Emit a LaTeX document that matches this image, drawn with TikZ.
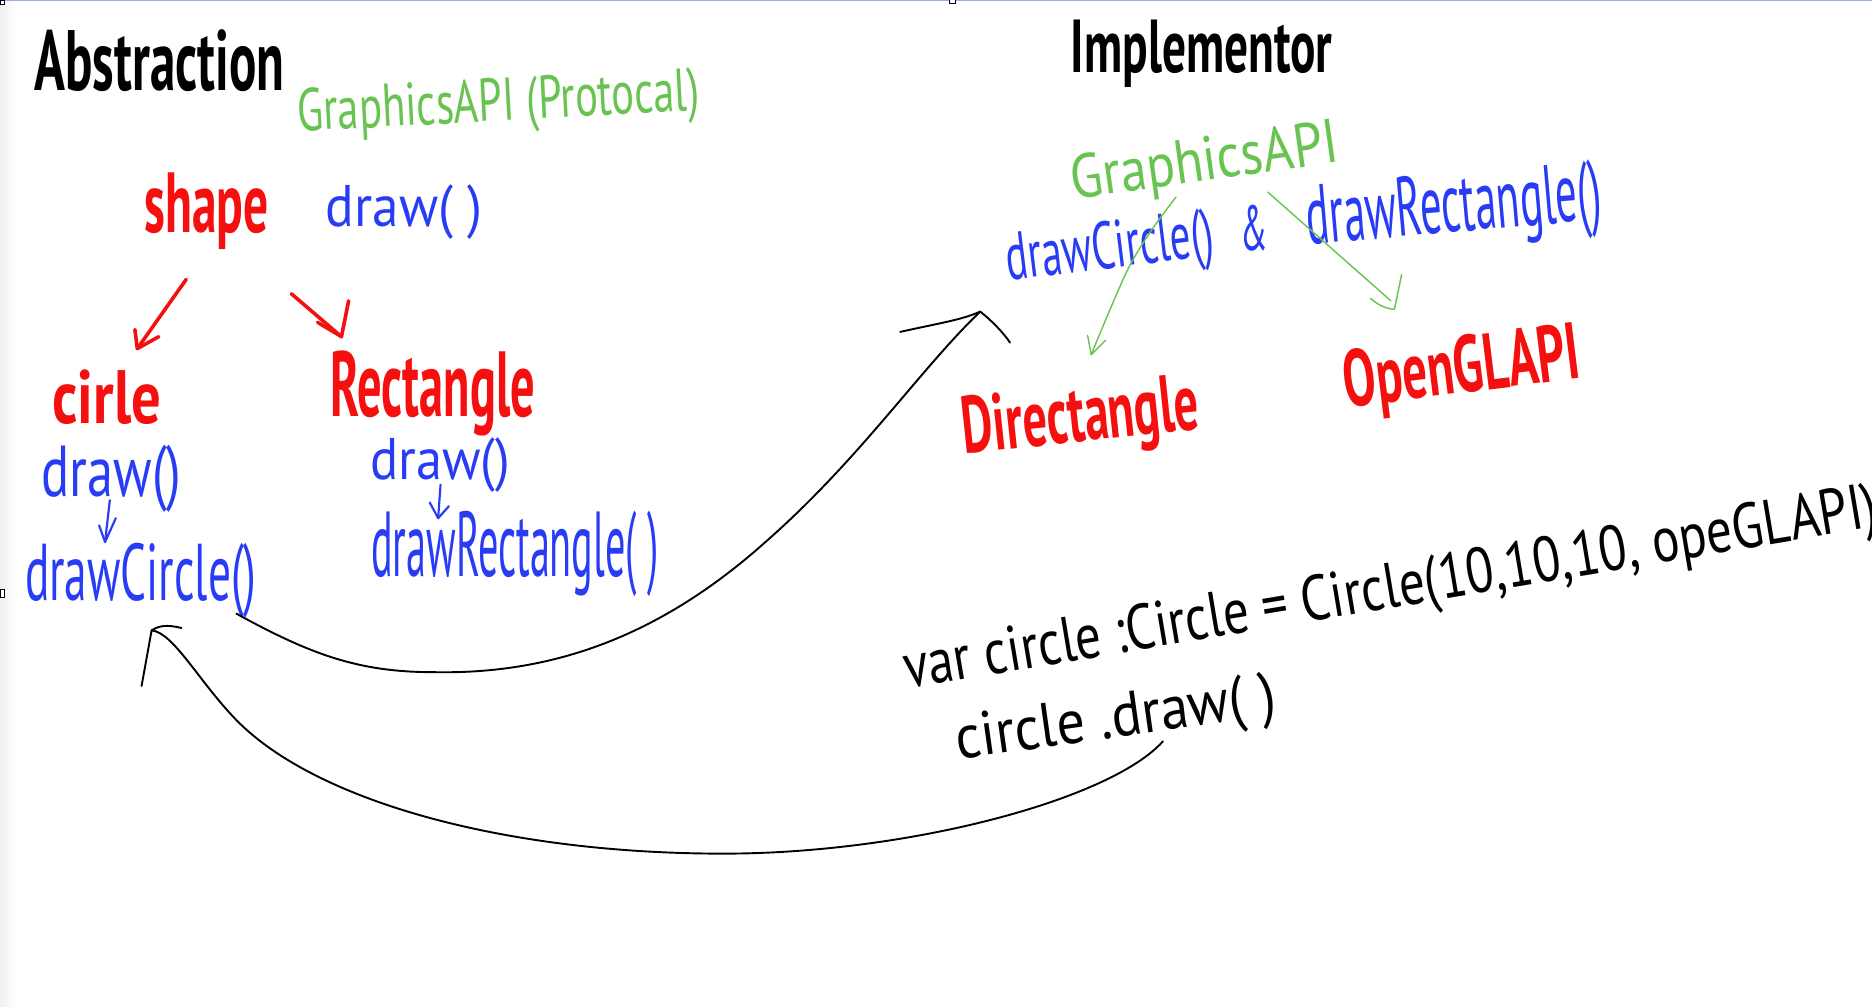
\documentclass[tikz,border=0pt]{standalone}
\usepackage{fontspec}
\setmainfont{PT Sans}
\usepackage{graphicx}
\definecolor{penred}{RGB}{245,15,15}
\definecolor{penblue}{RGB}{40,60,245}
\definecolor{pengreen}{RGB}{105,195,80}
\definecolor{edgeblue}{RGB}{150,170,245}
\newcommand{\hw}[3]{\resizebox{#1pt}{#2pt}{#3}}
\tikzset{
  txt/.style={inner sep=0pt, outer sep=0pt, anchor=base west},
  blk/.style={txt, text=black, font=\bfseries},
  redt/.style={txt, text=penred, font=\bfseries},
  bluet/.style={txt, text=penblue},
  greent/.style={txt, text=pengreen},
  codet/.style={txt, text=black},
  redpen/.style={draw=penred, line width=3pt, line cap=round, line join=round},
  bluepen/.style={draw=penblue, line width=1.8pt, line cap=round, line join=round},
  greenpen/.style={draw=pengreen, line width=1.2pt, line cap=round, line join=round},
  blackpen/.style={draw=black, line width=1.6pt, line cap=round, line join=round},
  handle/.style={draw=black, line width=0.6pt, fill=white},
}
\begin{document}
\begin{tikzpicture}[x=1pt,y=-1pt]
\useasboundingbox (0,0) rectangle (1568,843);
\fill[white] (0,0) rectangle (1568,843);
\shade[left color=black!6, right color=white] (0,0) rectangle (14,843);
\draw[edgeblue, line width=1.2pt] (0,0.6) -- (1568,0.6);
\draw[handle] (0,0) rectangle (4,4);
\draw[handle] (795,-2) rectangle (800,3);
\draw[handle] (0,494) rectangle (4,500);

% left side texts
\node[blk] (abs) at (29,76) {\hw{209}{51}{Abstraction}};
\node[greent, rotate=3] (gapi1) at (250,110) {\hw{337}{36}{GraphicsAPI (Protocal)}};
\node[redt] (shape) at (121,195) {\hw{104}{50}{shape}};
\node[bluet] (draw0) at (273,190) {\hw{131}{35}{draw( )}};
\node[redt] (cirle) at (44,355) {\hw{91}{45}{cirle}};
\node[redt] (rect) at (277,349) {\hw{171}{55}{Rectangle}};
\node[bluet] (draw1) at (35,416) {\hw{117}{43}{draw()}};
\node[bluet] (dcirc) at (21,503) {\hw{194}{48}{drawCircle()}};
\node[bluet] (draw2) at (310,402) {\hw{117}{35}{draw()}};
\node[bluet] (drect) at (311,483) {\hw{241}{55}{drawRectangle( )}};

% right side texts
\node[blk] (impl) at (897,61) {\hw{219}{44}{Implementor}};
\node[greent, rotate=8] (gapi2) at (899,167) {\hw{226}{37}{GraphicsAPI}};
\node[bluet, rotate=7] (dcirc2) at (845,235) {\hw{175}{40}{drawCircle()}};
\node[bluet] (amp) at (1039,210) {\hw{23}{38}{\&}};
\node[bluet, rotate=5] (drect2) at (1096,205) {\hw{248}{50}{drawRectangle()}};
\node[redt, rotate=6] (dx) at (808,380) {\hw{199}{48}{Directangle}};
\node[redt, rotate=7] (ogl) at (1128,341) {\hw{199}{48}{OpenGLAPI}};
\node[codet, rotate=9.5] (code1) at (760,577) {\hw{826}{38}{var circle :Circle = Circle(10,10,10, opeGLAPI)}};
\node[codet, rotate=8] (code2) at (803,636) {\hw{270}{37}{circle .draw( )}};

% connector end points
\coordinate (r1s) at (156,234); \coordinate (r1t) at (115,292);
\coordinate (r2s) at (244,246); \coordinate (r2t) at (286,282);
\coordinate (b1s) at (92,419);  \coordinate (b1t) at (88,454);
\coordinate (b2s) at (369,406); \coordinate (b2t) at (367,434);
\coordinate (g1s) at (985,165); \coordinate (g1t) at (914,297);
\coordinate (g2s) at (1062,161); \coordinate (g2t) at (1168,259);
\coordinate (c1s) at (198,514); \coordinate (c1t) at (821,261);
\coordinate (c2s) at (974,621); \coordinate (c2t) at (127,528);

% red arrows
\draw[redpen] (r1s) -- (r1t);
\draw[redpen] (113,276) -- (r1t) -- (133,282);
\draw[redpen] (r2s) -- (r2t);
\draw[redpen] (292,252) -- (r2t) -- (266,270);

% blue arrows
\draw[bluepen] (b1s) -- (b1t);
\draw[bluepen] (83,440) -- (b1t) -- (97,434);
\draw[bluepen] (b2s) -- (b2t);
\draw[bluepen] (360,421) -- (b2t) -- (376,424);

% green arrows
\draw[greenpen] plot[smooth] coordinates {(g1s) (963,195) (943,229) (g1t)};
\draw[greenpen] (911,281) -- (g1t) -- (926,285);
\draw[greenpen] (g2s) -- (1165,252);
\draw[greenpen] (1148,250) .. controls (1155,256) and (1162,259) .. (g2t) -- (1174,230);

% black curves
\draw[blackpen] (c1s) .. controls (260,548) and (300,563) .. (363,563)
  .. controls (460,565) and (550,535) .. (640,455)
  .. controls (720,385) and (770,310) .. (c1t);
\draw[blackpen] (754,278) .. controls (790,270) and (805,268) .. (c1t) .. controls (830,268) and (840,278) .. (846,287);
\draw[blackpen] (c2s) .. controls (930,670) and (760,715) .. (606,715)
  .. controls (420,715) and (260,670) .. (195,600)
  .. controls (165,568) and (145,530) .. (c2t);
\draw[blackpen] (118.6,574.5) -- (c2t) .. controls (133,524) and (140,523) .. (152,526);
\end{tikzpicture}
\end{document}
